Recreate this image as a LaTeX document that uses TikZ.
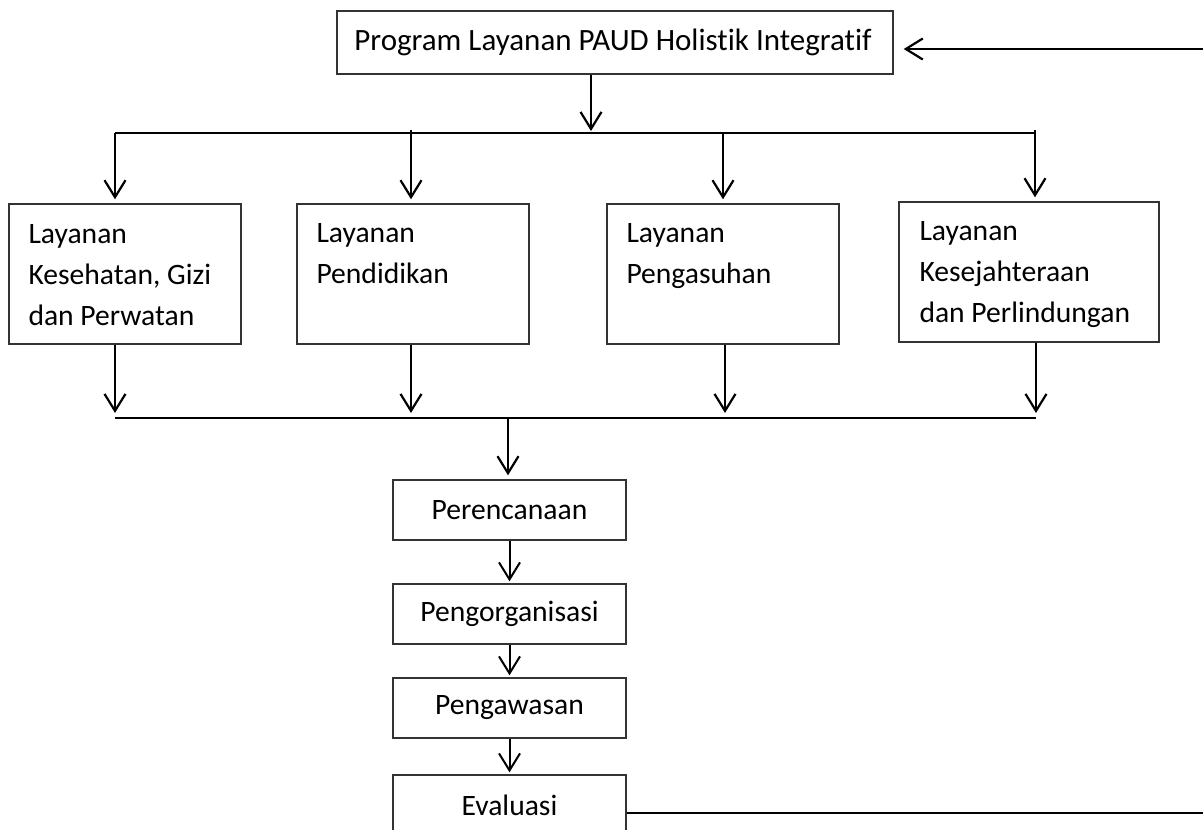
\documentclass[tikz,border=0pt]{standalone}
\usepackage{fontspec}
\setmainfont{Carlito}[Ligatures=NoCommon]
\usetikzlibrary{arrows.meta,calc}
\tikzset{
  conn/.style={line width=2.2pt, draw=black},
  arr/.style={conn, -{Straight Barb[length=17pt,width=21pt,line width=2.2pt]}},
  thinarr/.style={line width=2pt, draw=black, -{Straight Barb[length=17pt,width=21pt,line width=2pt]}},
  box/.style={rectangle, draw=black!80, line width=1.4pt, inner sep=0pt,
              font=\fontsize{29.6}{41}\selectfont},
  svc/.style={box, minimum width=232pt, minimum height=140pt},
  stage/.style={box, minimum width=233pt, minimum height=60pt},
  svctext/.style={anchor=base west, inner sep=0pt, font=\fontsize{29.6}{41}\selectfont}
}
\begin{document}
\begin{tikzpicture}[x=1pt,y=-1pt]
\clip (0,0) rectangle (1203,830);

% program box
\node[box, minimum width=556pt, minimum height=63pt, font=\fontsize{31}{38}\selectfont]
  (prog) at (615,42.5) {Program Layanan PAUD Holistik Integratif\hspace*{4pt}};

% four service boxes
\node[svc] (kes)  at (125,274) {};
\node[svc] (pend) at (413,274) {};
\node[svc] (asuh) at (723,274) {};
\node[svc, minimum width=260pt] (sejah) at (1029,272) {};

\node[svctext] at ($(kes.north west)+(20,40)$)
  {\parbox[t]{215pt}{\raggedright Layanan\\Kesehatan, Gizi\\dan Perwatan}};
\node[svctext] at ($(pend.north west)+(20,39)$)
  {\parbox[t]{215pt}{\raggedright Layanan\\Pendidikan}};
\node[svctext] at ($(asuh.north west)+(20,39)$)
  {\parbox[t]{215pt}{\raggedright Layanan\\Pengasuhan}};
\node[svctext] at ($(sejah.north west)+(21,39)$)
  {\parbox[t]{240pt}{\raggedright Layanan\\Kesejahteraan\\dan Perlindungan}};

% management stages
\node[stage] (per)  at (509.5,510) {Perencanaan};
\node[stage] (org)  at (509.5,614) {Pengorganisasi};
\node[stage] (awas) at (509.5,708) {Pengawasan};
\node[stage] (evl)  at (509.5,805) {Evaluasi};

% distribution bus
\coordinate (pd) at (591,133);
\coordinate (u1) at (115,133);
\coordinate (u2) at (411,133);
\coordinate (u3) at (723,133);
\coordinate (u4) at (1035,133);
\draw[arr, shorten >=2pt] (prog.south -| pd) -- (pd);
\draw[conn] (u1) -- (u4);
\draw[conn] (u2) -- ++(0,-3);
\draw[conn] (u4) -- ++(0,-3);
\foreach \u/\b in {u1/kes, u2/pend, u3/asuh, u4/sejah}
  \draw[arr, shorten >=4pt] (\u) -- (\u |- \b.north);

% collecting bus
\coordinate (l1) at (115,418);
\coordinate (l2) at (411,418);
\coordinate (l3) at (725,418);
\coordinate (l4) at (1036,418);
\coordinate (lm) at (508,418);
\foreach \l/\b in {l1/kes, l2/pend, l3/asuh, l4/sejah}
  \draw[arr, shorten >=5pt] (\b.south -| \l) -- (\l);
\draw[conn] (l1) -- (l4);
\draw[arr, shorten >=4pt] (lm) -- (lm |- per.north);

% stage sequence
\draw[thinarr, shorten >=2pt] (per) -- (org);
\draw[thinarr, shorten >=2pt] (org) -- (awas);
\draw[thinarr, shorten >=2pt] (awas) -- (evl);

% feedback loop back to the program
\coordinate (ev) at ($(evl.east)+(0,8)$);
\coordinate (fb1) at (1260,813);
\coordinate (fb2) at (1260,49);
\coordinate (pin) at ($(prog.east)+(0,6.5)$);
\draw[arr, shorten >=10pt] (ev) -- (fb1) -- (fb2) -- (pin);
\end{tikzpicture}
\end{document}
